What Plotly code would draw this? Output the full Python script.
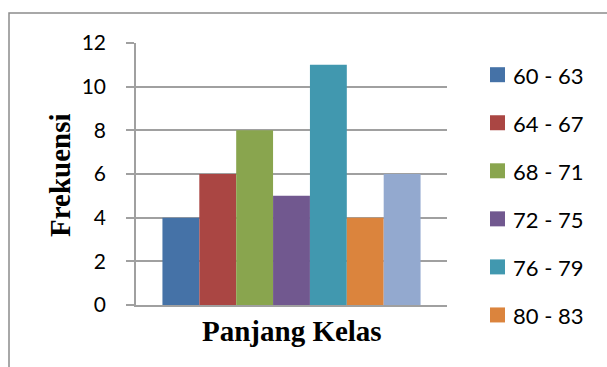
import plotly.graph_objects as go

categories = ["Panjang Kelas"]
series_labels = ["60 - 63", "64 - 67", "68 - 71", "72 - 75", "76 - 79", "80 - 83", "84 - 87"]
series_values = [4, 6, 8, 5, 11, 4, 6]
series_colors = ["#4572A7", "#AA4643", "#89A54E", "#71588F", "#4198AF", "#DB843D", "#93A9CF"]
legend_visible = [True, True, True, True, True, True, False]
y_ticks = [0, 2, 4, 6, 8, 10, 12]

W, H = 607, 367
L, R, T, B = 136, 447, 43, 305  # plot area in pixels


def px(x):
    return (x - L) / (R - L)


def py(y):
    return (B - y) / (B - T)


fig = go.Figure()
for lab, val, col in zip(series_labels, series_values, series_colors):
    fig.add_trace(go.Bar(x=categories, y=[val], name=lab, marker=dict(color=col, line=dict(width=0)),
                         showlegend=False))

shapes = [dict(type="rect", xref="paper", yref="paper", x0=px(9), x1=px(720), y0=py(13), y1=py(420),
               line=dict(color="#8c8c8c", width=1.5), layer="below")]
annotations = [
    dict(text="<b>Frekuensi</b>", xref="paper", yref="paper", x=px(60), y=py(175), textangle=-90,
         showarrow=False, xanchor="center", yanchor="middle",
         font=dict(family="Liberation Serif", size=29, color="black")),
    dict(text="<b>Panjang Kelas</b>", xref="paper", yref="paper", x=px(292), y=py(331),
         showarrow=False, xanchor="center", yanchor="middle",
         font=dict(family="Liberation Serif", size=29, color="black")),
]
k = 0
for lab, col, vis in zip(series_labels, series_colors, legend_visible):
    if not vis:
        continue
    cy = 74.7 + 48.05 * k
    shapes.append(dict(type="rect", xref="paper", yref="paper", x0=px(490), x1=px(505),
                       y0=py(cy + 7.5), y1=py(cy - 7.5), fillcolor=col, line=dict(width=0)))
    annotations.append(dict(text=lab, xref="paper", yref="paper", x=px(511), y=py(cy + 1),
                            showarrow=False, xanchor="left", yanchor="middle",
                            font=dict(family="Lato", size=22, color="black")))
    k += 1

fig.update_layout(
    width=W, height=H,
    margin=dict(l=L, r=W - R, t=T, b=H - B, pad=0),
    paper_bgcolor="white", plot_bgcolor="white",
    barmode="group", bargap=0.17, bargroupgap=0,
    showlegend=False,
    shapes=shapes, annotations=annotations,
    xaxis=dict(showticklabels=False, ticks="", showgrid=False, showline=True,
               linecolor="#a0a0a0", linewidth=1.5, zeroline=False),
    yaxis=dict(range=[0, 12], tickvals=y_ticks, showgrid=True, gridcolor="#a0a0a0", gridwidth=1.5,
               showline=True, linecolor="#a0a0a0", linewidth=1.5, ticks="outside", ticklen=8,
               tickcolor="#a0a0a0", tickwidth=1.5, zeroline=False, ticklabelstandoff=16,
               tickfont=dict(family="Lato", size=21, color="black")),
)

fig.write_html("out.html")
